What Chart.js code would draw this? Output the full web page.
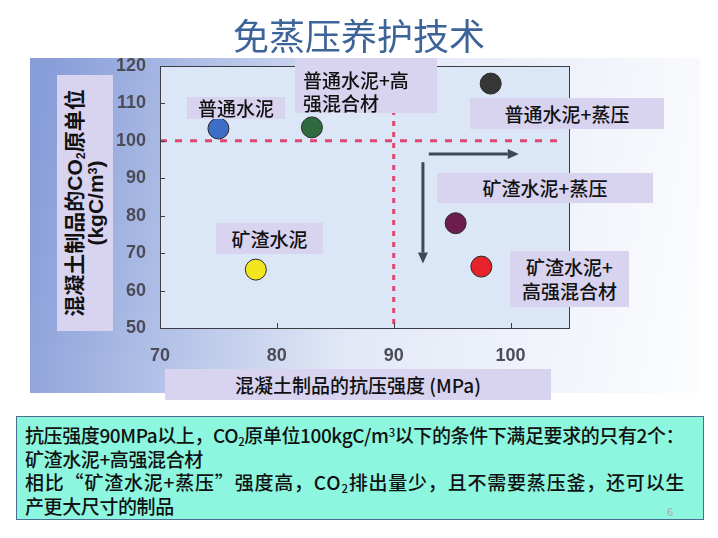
<!DOCTYPE html>
<html>
<head>
<meta charset="utf-8">
<script src="https://cdn.jsdelivr.net/npm/chart.js@4.4.1/dist/chart.umd.min.js"></script>
<style>
  html, body { margin: 0; padding: 0; background: #fff; }
  #page { position: relative; width: 718px; height: 538px; overflow: hidden;
          font-family: "Noto Sans CJK SC", "Liberation Sans", sans-serif; }
  #chart { position: absolute; left: 0; top: 0; }
  .title { position: absolute; left: 0; width: 718px; top: 12px; text-align: center;
           font-size: 36px; line-height: 44px; color: #3d6498; }
  .box { position: absolute; background: #d8d4f0; color: #111; font-size: 19px;
         font-weight: 500; text-align: center; white-space: nowrap; }
  .ytitle { position: absolute; left: 57px; top: 75px; width: 56px; height: 256px; background: #d8d4f0; }
  .ytitle div { position: absolute; left: 50%; top: 50%; width: 256px; text-align: center;
                transform: translate(-50%, -50%) rotate(-90deg); font-family: "Liberation Sans", "Noto Sans CJK SC", sans-serif;
                font-weight: bold; font-size: 21px; line-height: 21px; color: #111; white-space: nowrap; }
  .note { position: absolute; left: 16px; top: 416px; width: 688px; height: 104px; background: #8cf7de;
          border: 1px solid #4a6f92; box-sizing: border-box; padding: 6px 0 0 8px;
          font-size: 19px; font-weight: 500; line-height: 23.5px; color: #111; white-space: nowrap; letter-spacing: -0.4px; }
  .note .wide { letter-spacing: 0.8px; }
  .pgnum { position: absolute; left: 667px; top: 506px; font-size: 11px; color: #aaa; font-family: "Liberation Sans", sans-serif; }
  sub { font-size: 0.6em; vertical-align: -0.25em; line-height: 0; }
  sup { font-size: 0.6em; vertical-align: 0.5em; line-height: 0; }
</style>
</head>
<body>
<div id="page">
  <canvas id="chart" width="718" height="538"></canvas>
  <div class="title">免蒸压养护技术</div>

  <div class="ytitle"><div>混凝土制品的CO<sub>2</sub>原单位<br>(kgC/m<sup>3</sup>)</div></div>
  <div class="box" style="left:165px; top:369px; width:386px; height:31px; line-height:31px; font-size:19px;">混凝土制品的抗压强度 (MPa)</div>

  <div class="box" style="left:187px; top:97px; width:98px; height:22px; line-height:22px;">普通水泥</div>
  <div class="box" style="left:295px; top:58px; width:142px; height:55px; text-align:left; padding-left:8px; box-sizing:border-box; line-height:23px; padding-top:10px;">普通水泥+高<br>强混合材</div>
  <div class="box" style="left:470px; top:98px; width:194px; height:31px; line-height:31px;">普通水泥+蒸压</div>
  <div class="box" style="left:437px; top:173px; width:216px; height:30px; line-height:30px;">矿渣水泥+蒸压</div>
  <div class="box" style="left:510px; top:251px; width:119px; height:56px; line-height:24px; padding-top:4px; box-sizing:border-box;">矿渣水泥+<br>高强混合材</div>
  <div class="box" style="left:216px; top:223px; width:107px; height:31px; line-height:31px;">矿渣水泥</div>

  <div class="note">抗压强度90MPa以上，CO<sub>2</sub>原单位100kgC/m<sup>3</sup>以下的条件下满足要求的只有2个：<br>矿渣水泥+高强混合材<br><span class="wide">相比“矿渣水泥+蒸压”强度高，CO<sub>2</sub>排出量少，且不需要蒸压釜，还可以生</span><br>产更大尺寸的制品</div>
  <div class="pgnum">6</div>
</div>
<script>
// data
const names = ["普通水泥", "普通水泥+高强混合材", "矿渣水泥", "普通水泥+蒸压", "矿渣水泥+蒸压", "矿渣水泥+高强混合材"];
const strength = [75.0, 83.0, 78.2, 98.3, 95.3, 97.5];
const co2 = [103.3, 103.6, 65.6, 115.3, 78.0, 66.4];
const colors = ["#3d6dc6", "#2f6a3e", "#f3e61e", "#363636", "#6c1d4d", "#e6232b"];
const xTicks = [70, 80, 90, 100];
const yTicks = [50, 60, 70, 80, 90, 100, 110, 120];

// thresholds (dashed red lines)
const strengthLimit = 90;
const co2Limit = 100;

// direction arrows [x1, y1, x2, y2] in data units
const arrowRight = [93.0, 96.5, 100.7, 96.5];
const arrowDown = [92.5, 94.3, 92.5, 67.2];

const tickFont = { family: "Liberation Sans", size: 18, weight: "bold" };

function arrow(ctx, x1, y1, x2, y2) {
    const a = Math.atan2(y2 - y1, x2 - x1);
    const len = 11, half = 5;
    const bx = x2 - len * Math.cos(a), by = y2 - len * Math.sin(a);
    ctx.beginPath();
    ctx.moveTo(x1, y1);
    ctx.lineTo(bx, by);
    ctx.stroke();
    ctx.beginPath();
    ctx.moveTo(x2, y2);
    ctx.lineTo(bx + half * Math.sin(a), by - half * Math.cos(a));
    ctx.lineTo(bx - half * Math.sin(a), by + half * Math.cos(a));
    ctx.closePath();
    ctx.fill();
}

const slidePlugin = {
    id: "slide",
    beforeDraw(chart) {
        const { ctx, chartArea: a } = chart;
        ctx.save();
        const g = ctx.createLinearGradient(30, 180, 700, 300);
        g.addColorStop(0, "#889ed9");
        g.addColorStop(0.5, "#e2e8f6");
        g.addColorStop(1, "#fbfcfe");
        ctx.fillStyle = g;
        ctx.fillRect(30, 58, 670, 335);
        ctx.fillStyle = "#dbe7f7";
        ctx.fillRect(a.left, a.top, a.right - a.left, a.bottom - a.top);
        ctx.restore();
    },
    beforeDatasetsDraw(chart) {
        const { ctx, chartArea: a, scales: { x, y } } = chart;
        ctx.save();
        // dashed limits
        ctx.strokeStyle = "#e0466e";
        ctx.lineWidth = 3;
        ctx.setLineDash([7, 8]);
        ctx.beginPath();
        ctx.moveTo(a.left, y.getPixelForValue(co2Limit));
        ctx.lineTo(a.right - 4, y.getPixelForValue(co2Limit));
        ctx.stroke();
        ctx.setLineDash([5, 6]);
        ctx.beginPath();
        ctx.moveTo(x.getPixelForValue(strengthLimit), a.top);
        ctx.lineTo(x.getPixelForValue(strengthLimit), a.bottom);
        ctx.stroke();
        ctx.setLineDash([]);

        // plot frame and inward ticks
        ctx.strokeStyle = "#3c3c44";
        ctx.lineWidth = 1;
        ctx.strokeRect(a.left + 0.5, a.top + 0.5, a.right - a.left, a.bottom - a.top);
        ctx.beginPath();
        xTicks.slice(1).forEach(v => {
            const px = Math.round(x.getPixelForValue(v)) + 0.5;
            ctx.moveTo(px, a.bottom);
            ctx.lineTo(px, a.bottom - 5);
        });
        yTicks.slice(1, -1).forEach(v => {
            const py = Math.round(y.getPixelForValue(v)) + 0.5;
            ctx.moveTo(a.left, py);
            ctx.lineTo(a.left + 5, py);
        });
        ctx.stroke();

        // arrows
        ctx.strokeStyle = "#3a4956";
        ctx.fillStyle = "#3a4956";
        ctx.lineWidth = 3;
        [arrowRight, arrowDown].forEach(r => {
            arrow(ctx, x.getPixelForValue(r[0]), y.getPixelForValue(r[1]),
                       x.getPixelForValue(r[2]), y.getPixelForValue(r[3]));
        });
        ctx.restore();
    }
};

new Chart(document.getElementById("chart"), {
    type: "scatter",
    data: {
        labels: names,
        datasets: [{
            label: "CO2",
            data: strength.map((v, i) => ({ x: v, y: co2[i] })),
            backgroundColor: colors,
            borderColor: "#2a2a2a",
            borderWidth: 1,
            pointRadius: 10.5,
            pointHoverRadius: 10.5
        }]
    },
    options: {
        responsive: false,
        animation: false,
        events: [],
        layout: { padding: { left: 0, top: 66, right: 149, bottom: 150 } },
        plugins: { legend: { display: false }, tooltip: { enabled: false } },
        scales: {
            x: {
                type: "linear",
                min: 70, max: 105,
                afterBuildTicks: s => { s.ticks = xTicks.map(v => ({ value: v })); },
                afterFit: s => { s.height = 60; },
                grid: { display: false, drawTicks: false },
                border: { display: false },
                ticks: { padding: 17, font: tickFont, color: "#4c4c58" }
            },
            y: {
                min: 50, max: 120,
                afterBuildTicks: s => { s.ticks = yTicks.map(v => ({ value: v })); },
                afterFit: s => { s.width = 160; },
                grid: { display: false, drawTicks: false },
                border: { display: false },
                ticks: { padding: 14, font: tickFont, color: "#4c4c58" }
            }
        }
    },
    plugins: [slidePlugin]
});
</script>
</body>
</html>
